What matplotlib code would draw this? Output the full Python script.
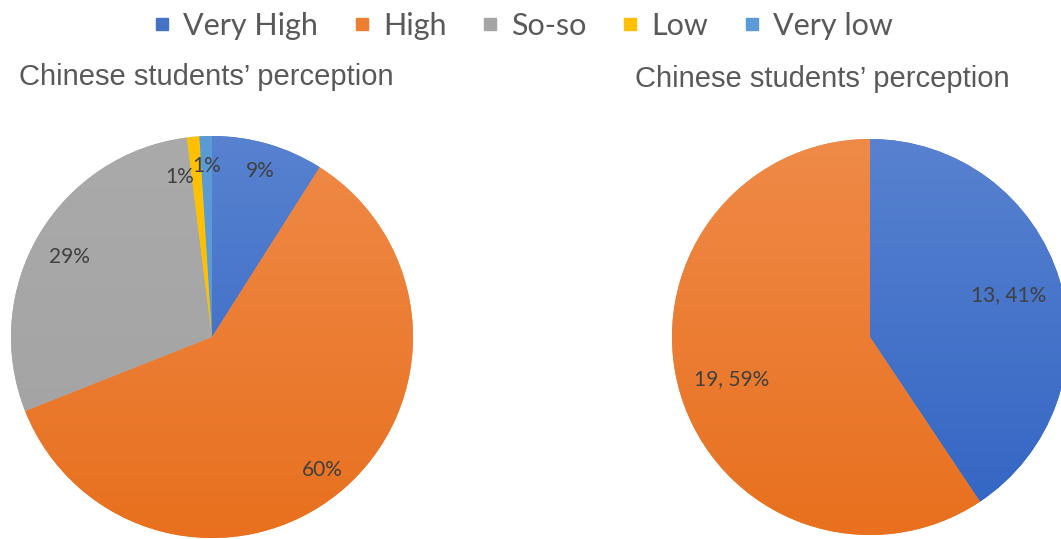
import numpy as np
import matplotlib
matplotlib.use("Agg")
import matplotlib.pyplot as plt
from matplotlib.colors import LinearSegmentedColormap
from matplotlib.lines import Line2D

# data
categories = ["Very High", "High", "So-so", "Low", "Very low"]
left_pct = [9, 60, 29, 1, 1]
right_counts = [13, 19]
title_left = "Chinese students\u2019 perception"
title_right = "Chinese students\u2019 perception"

# colours: (top, bottom) of the soft vertical gradient
shades = [("#5882D0", "#3164C3"),
          ("#EF8A48", "#E8701E"),
          ("#AAAAAA", "#A2A2A2"),
          ("#FFC000", "#FFC000"),
          ("#5B9BD5", "#5B9BD5")]
flat = ["#4472C4", "#ED7D31", "#A5A5A5", "#FFC000", "#5B9BD5"]

label_color = "#404040"
label_font = "Lato"


def shade(ax, wedge, top, bottom):
    grad = np.linspace(0, 1, 256).reshape(-1, 1)
    cmap = LinearSegmentedColormap.from_list("g", [bottom, top])
    im = ax.imshow(grad, extent=(-1, 1, -1, 1), origin="lower", cmap=cmap,
                   aspect="auto", zorder=1.5, interpolation="bilinear")
    im.set_clip_path(wedge)


def draw_pie(ax, values, colors, autopct, pctdistance):
    wedges, texts, autotexts = ax.pie(values, colors=colors, startangle=90,
                                      counterclock=False, radius=1,
                                      autopct=autopct, pctdistance=pctdistance,
                                      textprops=dict(color=label_color, fontsize=15,
                                                     family=label_font),
                                      wedgeprops=dict(linewidth=0))
    for w, (top, bottom) in zip(wedges, shades):
        shade(ax, w, top, bottom)
    for t in autotexts:
        t.set_zorder(5)
    ax.set_xlim(-1, 1)
    ax.set_ylim(-1, 1)
    ax.set_aspect("equal")
    ax.axis("off")
    return wedges, autotexts


def nudge(t, dx, dy):
    x, y = t.get_position()
    t.set_position((x + dx, y + dy))


W, H = 1061, 539
fig = plt.figure(figsize=(W / 100, H / 100), dpi=100)

# left pie: centre (212, 337), radius 201 px
r1 = 201
ax1 = fig.add_axes([(212 - r1) / W, (H - 337 - r1) / H, 2 * r1 / W, 2 * r1 / H])
w1, at1 = draw_pie(ax1, left_pct, flat, "%.0f%%", 0.86)
# small slices: push labels apart like the original
nudge(at1[3], -0.08, -0.06)
nudge(at1[4], 0.0, -0.01)
nudge(at1[2], 0.03, -0.04)

# right pie: centre (870, 337), radius 198 px
r2 = 198
ax2 = fig.add_axes([(870 - r2) / W, (H - 337 - r2) / H, 2 * r2 / W, 2 * r2 / H])
total = sum(right_counts)
draw_pie(ax2, right_counts, flat[:2],
         lambda p: f"{round(p * total / 100)}, {p:.0f}%", 0.73)

# titles
fig.text(206 / W, 1 - 77 / H, title_left, ha="center", va="center",
         fontsize=21, color="#595959", family="Liberation Sans")
fig.text(822 / W, 1 - 79 / H, title_right, ha="center", va="center",
         fontsize=21, color="#595959", family="Liberation Sans")

# legend
handles = [Line2D([], [], marker="s", linestyle="none", markersize=8,
                  markerfacecolor=c, markeredgecolor=c) for c in flat]
leg = fig.legend(handles, categories, loc="center", ncol=5,
                 bbox_to_anchor=(523 / W, 1 - 26 / H), frameon=False,
                 handlelength=0.6, handletextpad=0.4, columnspacing=1.12,
                 prop=dict(family=label_font, size=22))
for t in leg.get_texts():
    t.set_color("#595959")

fig.savefig("out.png", dpi=100)
